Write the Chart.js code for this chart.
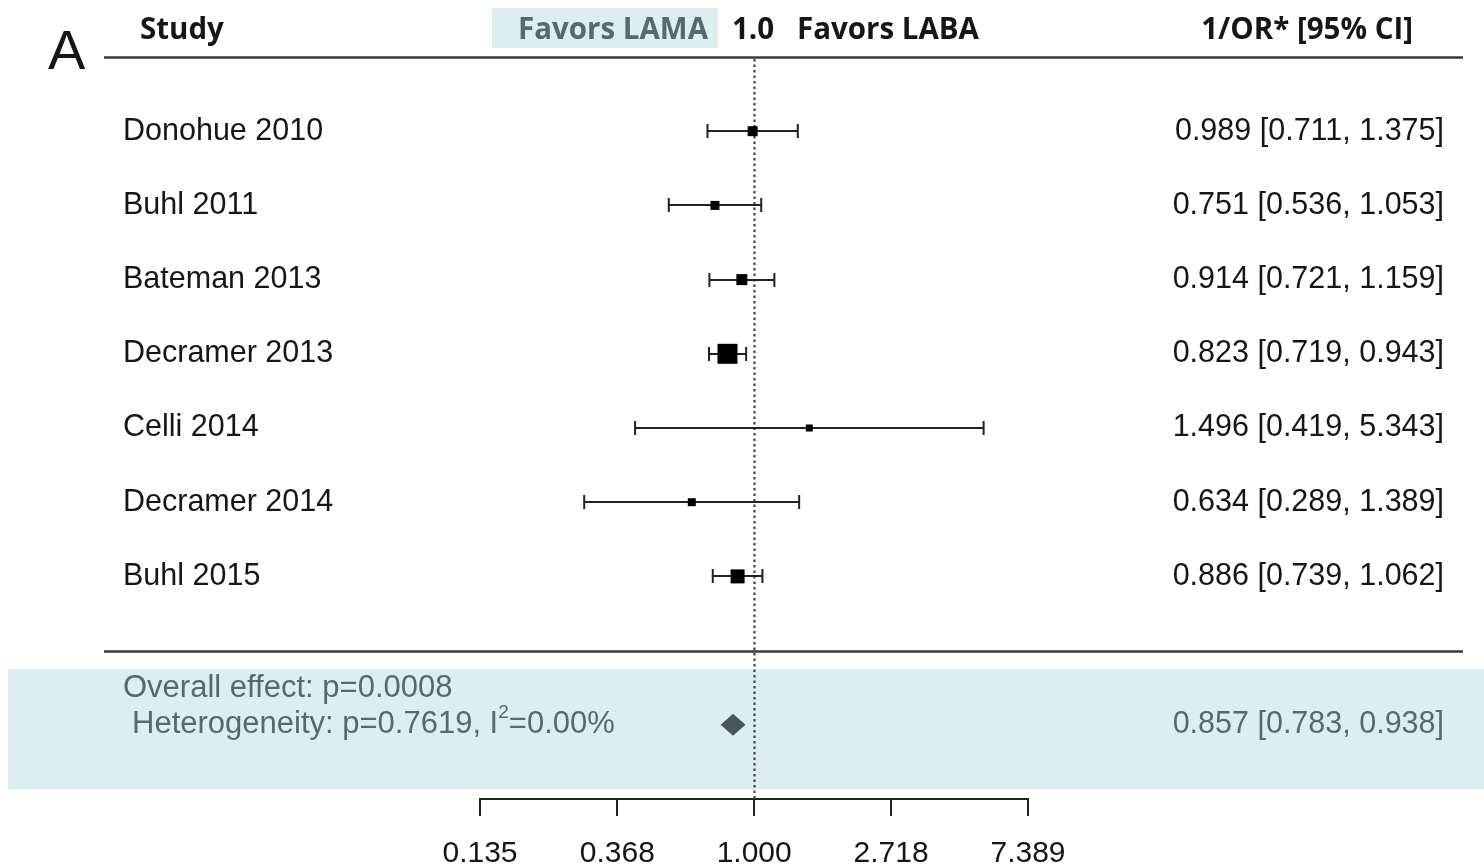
<!DOCTYPE html>
<html>
<head>
<meta charset="utf-8">
<title>Forest plot</title>
<script src="https://cdn.jsdelivr.net/npm/chart.js@4.4.1/dist/chart.umd.min.js"></script>
<style>
  html, body { margin: 0; padding: 0; background: #fff; }
  #wrap { width: 1484px; height: 865px; position: relative; }
</style>
</head>
<body>
<div id="wrap"><canvas id="forestChart" width="1484" height="865"></canvas></div>
<script>
// DATA
var studies = ['Donohue 2010', 'Buhl 2011', 'Bateman 2013', 'Decramer 2013', 'Celli 2014', 'Decramer 2014', 'Buhl 2015'];
var estimate = [0.989, 0.751, 0.914, 0.823, 1.496, 0.634, 0.886];
var ciLow = [0.711, 0.536, 0.721, 0.719, 0.419, 0.289, 0.739];
var ciHigh = [1.375, 1.053, 1.159, 0.943, 5.343, 1.389, 1.062];
var overallEst = [0.857];
var overallLow = [0.783];
var overallHigh = [0.938];
var tickValues = [0.135, 0.368, 1.000, 2.718, 7.389];
var overallEffectText = 'Overall effect: p=0.0008';
var heteroText = ['Heterogeneity: p=0.7619, I', '2', '=0.00%'];

// STYLE (box side in px, roughly by study weight)
var boxSide = [10, 9, 11, 20, 7, 8, 14];
var bandColor = '#ddeef3';
var grayText = '#566870';
var darkText = '#161616';

var rows = studies.map(function (s, i) { return i + 1; });
var overallRow = 9;

var fmt = function (v) { return v.toFixed(3); };

var forestPlugin = {
  id: 'forestPlugin',
  beforeDatasetsDraw: function (chart) {
    var ctx = chart.ctx;
    var xs = chart.scales.x;
    var ys = chart.scales.y;
    ctx.save();
    // OVERALL BAND
    var bandTop = ys.getPixelForValue(8.25);
    var bandBottom = ys.getPixelForValue(9.87);
    ctx.fillStyle = bandColor;
    ctx.fillRect(8, bandTop, 1484 - 8, bandBottom - bandTop);
    // HEADER BOX
    ctx.fillRect(492, 8, 226, 40);
    // TABLE LINES
    ctx.strokeStyle = '#3a3a3a';
    ctx.lineWidth = 2.5;
    [0, 8].forEach(function (r) {
      var y = Math.round(ys.getPixelForValue(r)) + 0.5;
      ctx.beginPath();
      ctx.moveTo(104, y);
      ctx.lineTo(1463, y);
      ctx.stroke();
    });
    // NULL LINE
    var x1 = Math.round(xs.getPixelForValue(1)) + 0.5;
    ctx.strokeStyle = '#444';
    ctx.lineWidth = 2.2;
    ctx.setLineDash([2.5, 3]);
    ctx.beginPath();
    ctx.moveTo(x1, ys.getPixelForValue(0) + 2);
    ctx.lineTo(x1, ys.getPixelForValue(10) + 2);
    ctx.stroke();
    ctx.setLineDash([]);
    // CONFIDENCE INTERVALS
    ctx.strokeStyle = '#222';
    ctx.lineWidth = 2;
    rows.forEach(function (r, i) {
      var y = Math.round(ys.getPixelForValue(r));
      var xl = xs.getPixelForValue(ciLow[i]);
      var xh = xs.getPixelForValue(ciHigh[i]);
      ctx.beginPath();
      ctx.moveTo(xl, y);
      ctx.lineTo(xh, y);
      ctx.moveTo(xl, y - 7);
      ctx.lineTo(xl, y + 7);
      ctx.moveTo(xh, y - 7);
      ctx.lineTo(xh, y + 7);
      ctx.stroke();
    });
    // OVERALL DIAMOND
    var yo = ys.getPixelForValue(overallRow);
    ctx.fillStyle = '#46565c';
    ctx.beginPath();
    ctx.moveTo(xs.getPixelForValue(overallLow[0]), yo);
    ctx.lineTo(xs.getPixelForValue(overallEst[0]), yo - 11);
    ctx.lineTo(xs.getPixelForValue(overallHigh[0]), yo);
    ctx.lineTo(xs.getPixelForValue(overallEst[0]), yo + 11);
    ctx.closePath();
    ctx.fill();
    ctx.restore();
  },
  afterDraw: function (chart) {
    var ctx = chart.ctx;
    var ys = chart.scales.y;
    ctx.save();
    // PANEL LETTER
    ctx.fillStyle = darkText;
    ctx.textBaseline = 'alphabetic';
    ctx.textAlign = 'left';
    ctx.font = '56px "Liberation Sans"';
    ctx.fillText('A', 48, 69);
    // HEADERS
    ctx.font = 'bold 29.5px "Open Sans"';
    ctx.textBaseline = 'middle';
    ctx.fillText('Study', 140, 31);
    ctx.fillText('1.0', 732, 31);
    ctx.fillText('Favors LABA', 797, 31);
    ctx.textAlign = 'right';
    ctx.fillText('1/OR* [95% CI]', 1413, 31);
    ctx.fillStyle = grayText;
    ctx.fillText('Favors LAMA', 708, 31);
    // STUDY ROWS
    ctx.font = '30.5px "Liberation Sans"';
    ctx.fillStyle = darkText;
    rows.forEach(function (r, i) {
      var y = ys.getPixelForValue(r);
      ctx.textAlign = 'left';
      ctx.fillText(studies[i], 123, y);
      ctx.textAlign = 'right';
      ctx.fillText(fmt(estimate[i]) + ' [' + fmt(ciLow[i]) + ', ' + fmt(ciHigh[i]) + ']', 1444, y);
    });
    // OVERALL ROW
    var yo = ys.getPixelForValue(overallRow);
    ctx.fillStyle = grayText;
    ctx.textAlign = 'right';
    ctx.fillText(fmt(overallEst[0]) + ' [' + fmt(overallLow[0]) + ', ' + fmt(overallHigh[0]) + ']', 1444, yo);
    ctx.textAlign = 'left';
    ctx.font = '31px "Liberation Sans"';
    ctx.fillText(overallEffectText, 123, yo - 36);
    var hx = 132;
    ctx.fillText(heteroText[0], hx, yo);
    hx += ctx.measureText(heteroText[0]).width;
    ctx.font = '19px "Liberation Sans"';
    ctx.fillText(heteroText[1], hx, yo - 12);
    hx += ctx.measureText(heteroText[1]).width;
    ctx.font = '31px "Liberation Sans"';
    ctx.fillText(heteroText[2], hx, yo);
    ctx.restore();
  }
};

var ctx = document.getElementById('forestChart').getContext('2d');
var forestChart = new Chart(ctx, {
  type: 'scatter',
  data: {
    datasets: [{
      label: 'Studies',
      data: estimate.map(function (v, i) { return { x: v, y: rows[i] }; }),
      pointStyle: 'rect',
      pointRadius: boxSide.map(function (s) { return s / Math.SQRT2; }),
      pointHoverRadius: boxSide.map(function (s) { return s / Math.SQRT2; }),
      backgroundColor: '#000',
      borderWidth: 0
    }]
  },
  options: {
    responsive: false,
    animation: false,
    events: [],
    layout: { padding: { left: 480, right: 456, top: 57, bottom: -27 } },
    plugins: {
      legend: { display: false },
      tooltip: { enabled: false }
    },
    scales: {
      x: {
        type: 'logarithmic',
        position: 'bottom',
        min: tickValues[0],
        max: tickValues[tickValues.length - 1],
        afterBuildTicks: function (scale) {
          scale.ticks = tickValues.map(function (v) { return { value: v }; });
        },
        ticks: {
          autoSkip: false,
          maxRotation: 0,
          padding: 23,
          color: darkText,
          font: { family: 'Liberation Sans', size: 30, lineHeight: 1 },
          callback: function (value) { return Number(value).toFixed(3); }
        },
        grid: { drawOnChartArea: false, drawTicks: true, tickLength: 17, color: '#222', lineWidth: 2 },
        border: { display: true, color: '#222', width: 2 }
      },
      y: {
        display: false,
        reverse: true,
        min: 0,
        max: 10
      }
    }
  },
  plugins: [forestPlugin]
});
</script>
</body>
</html>
